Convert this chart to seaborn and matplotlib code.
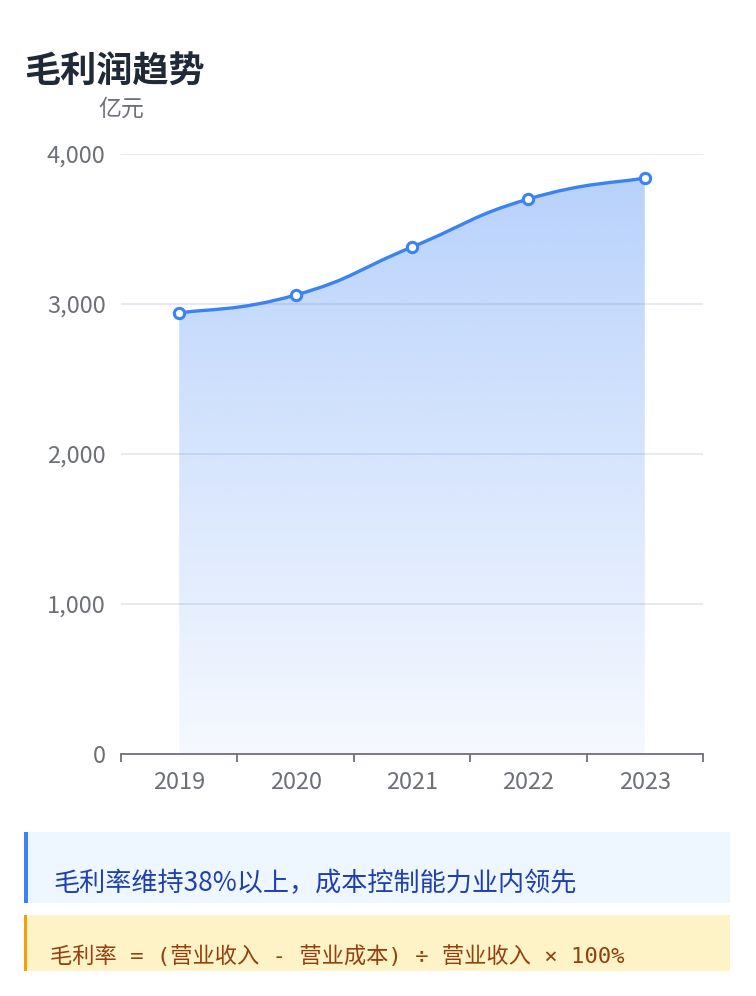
import numpy as np
import pandas as pd
import matplotlib
matplotlib.use("Agg")
import matplotlib.pyplot as plt
import seaborn as sns
from matplotlib.path import Path
from matplotlib.patches import PathPatch, Rectangle
from matplotlib.colors import to_rgb

# Data
years = ["2019", "2020", "2021", "2022", "2023"]
gross_profit = [2940, 3060, 3380, 3700, 3840]  # 亿元
y_ticks = [0, 1000, 2000, 3000, 4000]

title = "毛利润趋势"
unit = "亿元"
note_text = "毛利率维持38%以上，成本控制能力业内领先"
formula_text = "毛利率 = (营业收入 - 营业成本) ÷ 营业收入 × 100%"

sns.set_theme(style="white")
plt.rcParams["font.family"] = ["Noto Sans CJK SC", "DejaVu Sans"]

BLUE = "#3b82f6"
GRAY = "#6e7079"

W, H = 756, 996
fig = plt.figure(figsize=(W / 100, H / 100), dpi=100)
fig.patch.set_facecolor("white")

def fx(px):
    return px / W

def fy(py):
    return 1 - py / H

ax = fig.add_axes([fx(121), fy(754), fx(703) - fx(121), fy(154) - fy(754)])
ax.set_facecolor("none")

df = pd.DataFrame({"x": np.arange(len(years)), "year": years, "value": gross_profit})
xs = df["x"].to_numpy(dtype=float)
ys = df["value"].to_numpy(dtype=float)

# Smooth bezier path through the points (echarts-like smoothing)
verts = [(xs[0], ys[0])]
codes = [Path.MOVETO]
n = len(xs)
k = 0.25
for i in range(n - 1):
    p0 = np.array([xs[max(i - 1, 0)], ys[max(i - 1, 0)]])
    p1 = np.array([xs[i], ys[i]])
    p2 = np.array([xs[i + 1], ys[i + 1]])
    p3 = np.array([xs[min(i + 2, n - 1)], ys[min(i + 2, n - 1)]])
    c1 = p1 + (p2 - p0) * k
    c2 = p2 - (p3 - p1) * k
    verts += [tuple(c1), tuple(c2), tuple(p2)]
    codes += [Path.CURVE4] * 3

line_path = Path(verts, codes)
area_path = Path(verts + [(xs[-1], 0), (xs[0], 0), (xs[0], ys[0])],
                 codes + [Path.LINETO, Path.LINETO, Path.CLOSEPOLY])

# Gradient fill
r, g, b = to_rgb(BLUE)
grad = np.linspace(0.05, 0.36, 256)[:, None]
img = np.zeros((256, 1, 4))
img[..., 0], img[..., 1], img[..., 2] = r, g, b
img[..., 3] = grad
im = ax.imshow(img, aspect="auto", origin="lower",
               extent=[xs[0], xs[-1], 0, ys.max()], zorder=1, interpolation="bilinear")
clip = PathPatch(area_path, facecolor="none", edgecolor="none", transform=ax.transData)
ax.add_patch(clip)
im.set_clip_path(clip)

ax.add_patch(PathPatch(line_path, facecolor="none", edgecolor=BLUE, lw=2.4,
                       zorder=3, capstyle="round"))

sns.scatterplot(data=df, x="x", y="value", ax=ax, s=55, color="white",
                edgecolor=BLUE, linewidth=2.2, zorder=4, legend=False)

# Axes styling
ax.set_xlim(-0.5, len(years) - 0.5)
ax.set_ylim(0, 4000)
ax.set_yticks(y_ticks)
ax.set_yticklabels([f"{v:,}" for v in y_ticks])
ax.set_xticks(xs)
ax.set_xticklabels(years)
ax.set_xticks(np.arange(-0.5, len(years)), minor=True)
ax.tick_params(axis="x", which="major", bottom=True, length=0, pad=12,
               labelsize=17, labelcolor=GRAY)
ax.tick_params(axis="x", which="minor", bottom=True, length=6, width=1.3,
               color=GRAY, direction="out")
ax.tick_params(axis="y", left=False, length=0, pad=11, labelsize=17, labelcolor=GRAY)
ax.set_xlabel("")
ax.set_ylabel("")
for side in ["left", "right", "top"]:
    ax.spines[side].set_visible(False)
ax.spines["bottom"].set_color(GRAY)
ax.spines["bottom"].set_linewidth(1.3)
for v in y_ticks[1:]:
    ax.axhline(v, color="#e0e6f1", lw=1.2, zorder=0)

# Texts
fig.text(fx(24), fy(72), title, fontsize=26, fontweight="bold", color="#1f2937",
         ha="left", va="center")
fig.text(fx(121), fy(109), unit, fontsize=16.5, color=GRAY, ha="center", va="center")

# Note boxes
fig.patches.append(Rectangle((fx(24), fy(903)), fx(730) - fx(24), fy(832) - fy(903),
                             transform=fig.transFigure, facecolor="#eef6ff", edgecolor="none"))
fig.patches.append(Rectangle((fx(24), fy(903)), fx(28) - fx(24), fy(832) - fy(903),
                             transform=fig.transFigure, facecolor=BLUE, edgecolor="none"))
fig.text(fx(53), fy(884), note_text, fontsize=18.8, color="#1e40af", ha="left", va="center")

fig.patches.append(Rectangle((fx(24), fy(971)), fx(730) - fx(24), fy(915) - fy(971),
                             transform=fig.transFigure, facecolor="#fef3c7", edgecolor="none"))
fig.patches.append(Rectangle((fx(24), fy(971)), fx(27) - fx(24), fy(915) - fy(971),
                             transform=fig.transFigure, facecolor="#f59e0b", edgecolor="none"))
fig.text(fx(50), fy(956), formula_text, fontsize=16,
         family=["DejaVu Sans Mono", "Noto Sans CJK SC"], color="#92400e",
         ha="left", va="center")

fig.savefig("out.png", dpi=100, facecolor="white")
